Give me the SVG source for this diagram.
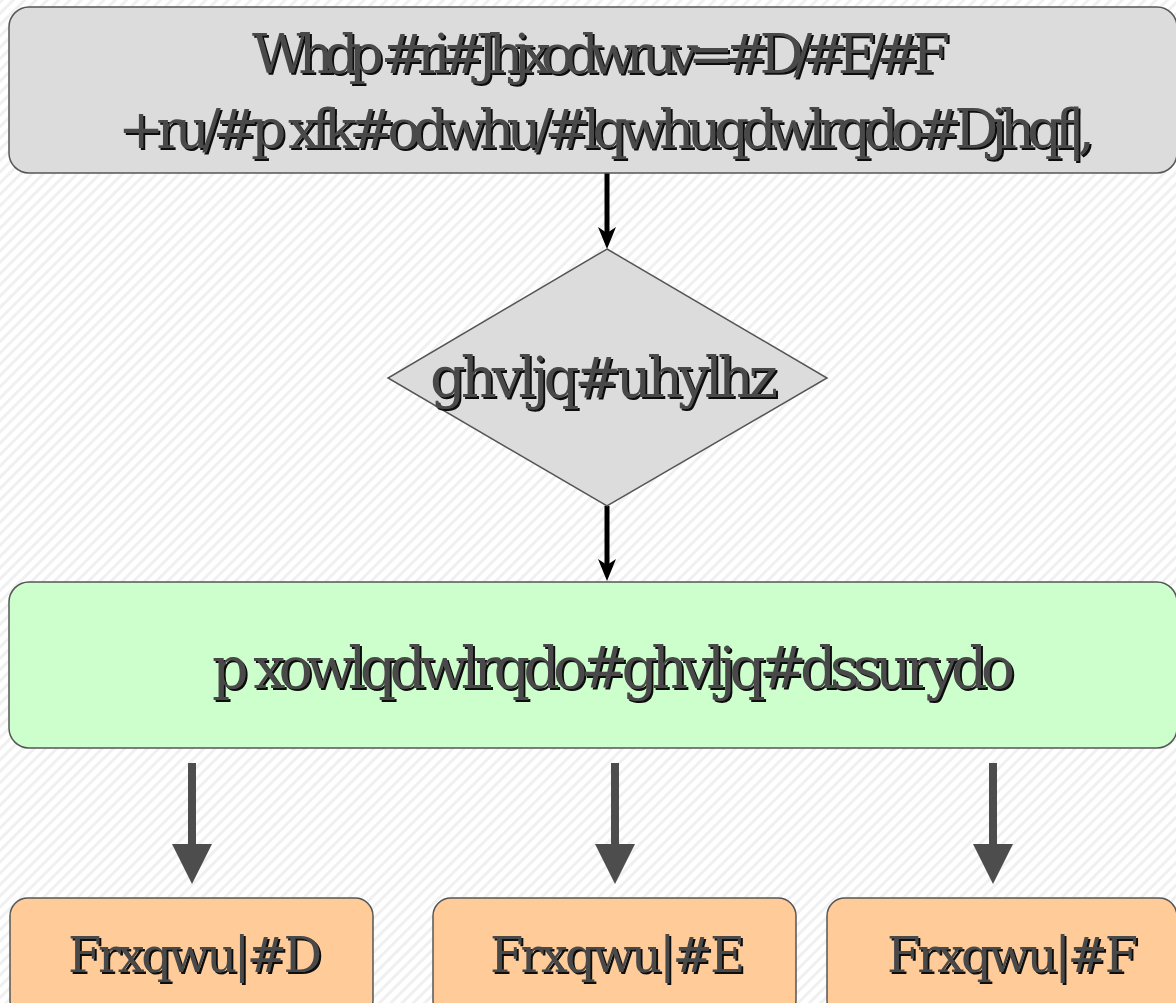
<svg xmlns="http://www.w3.org/2000/svg" width="1176" height="1003" viewBox="0 0 1176 1003">
  <defs>
    <pattern id="stripes" patternUnits="userSpaceOnUse" width="8" height="8" patternTransform="rotate(45)">
      <rect width="8" height="8" fill="#ffffff"/>
      <rect width="3" height="8" fill="#f0f0f0"/>
    </pattern>
    <filter id="shadow" x="-5%" y="-20%" width="110%" height="140%">
      <feOffset in="SourceAlpha" dx="2" dy="2" result="off"/>
      <feFlood flood-color="#111111"/>
      <feComposite in2="off" operator="in" result="sh"/>
      <feMerge>
        <feMergeNode in="sh"/>
        <feMergeNode in="SourceGraphic"/>
      </feMerge>
    </filter>
  </defs>
  <style>
    .box { stroke: #555555; stroke-width: 1.5; }
    .grey { fill: #dcdcdc; }
    .green { fill: #ccffcc; }
    .orange { fill: #ffcc99; }
    .lbl { fill: #4a4a4a; filter: url(#shadow); font-family: "DejaVu Serif", "Liberation Serif", serif; }
    .flow { stroke: #000; stroke-width: 5; fill: none; }
    .fan { stroke: #4d4d4d; stroke-width: 8; fill: none; }
    .fanhead { fill: #4d4d4d; }
  </style>

  <rect width="1176" height="1003" fill="url(#stripes)"/>

  <g id="connectors">
    <line class="flow" x1="607" y1="173" x2="607" y2="236"/>
    <path d="M598,227 L607,233 L616,227 L607,249 Z" fill="#000"/>
    <line class="flow" x1="607" y1="506" x2="607" y2="568"/>
    <path d="M598,559 L607,565 L616,559 L607,581 Z" fill="#000"/>

    <line class="fan" x1="192" y1="763" x2="192" y2="846"/>
    <path class="fanhead" d="M172,844 L212,844 L192,884 Z"/>
    <line class="fan" x1="615" y1="763" x2="615" y2="846"/>
    <path class="fanhead" d="M595,844 L635,844 L615,884 Z"/>
    <line class="fan" x1="993" y1="763" x2="993" y2="846"/>
    <path class="fanhead" d="M973,844 L1013,844 L993,884 Z"/>
  </g>

  <g id="team">
    <rect class="box grey" x="9" y="7" width="1168" height="166" rx="20"/>
    <text class="lbl" x="252" y="73" font-size="55" textLength="698" lengthAdjust="spacing">Whdp #ri#Jhjxodwruv=#D/#E/#F</text>
    <text class="lbl" x="118" y="148" font-size="55" textLength="977" lengthAdjust="spacing">+ru/#p xfk#odwhu/#lqwhuqdwlrqdo#Djhqf|,</text>
  </g>

  <g id="review">
    <polygon class="box grey" points="607,249 827,378 607,506 388,378"/>
    <text class="lbl" x="430" y="397" font-size="56" textLength="348" lengthAdjust="spacing">ghvljq#uhylhz</text>
  </g>

  <g id="approval">
    <rect class="box green" x="9" y="582" width="1168" height="166" rx="20"/>
    <text class="lbl" x="212" y="688" font-size="57" textLength="803" lengthAdjust="spacing">p xowlqdwlrqdo#ghvljq#dssurydo</text>
  </g>

  <g id="countryA">
    <rect class="box orange" x="10" y="898" width="363" height="120" rx="18"/>
    <text class="lbl" x="68" y="972" font-size="48" textLength="254" lengthAdjust="spacing">Frxqwu|#D</text>
  </g>
  <g id="countryB">
    <rect class="box orange" x="433" y="898" width="363" height="120" rx="18"/>
    <text class="lbl" x="490" y="972" font-size="48" textLength="255" lengthAdjust="spacing">Frxqwu|#E</text>
  </g>
  <g id="countryC">
    <rect class="box orange" x="827" y="898" width="350" height="120" rx="18"/>
    <text class="lbl" x="887" y="972" font-size="48" textLength="251" lengthAdjust="spacing">Frxqwu|#F</text>
  </g>
</svg>
